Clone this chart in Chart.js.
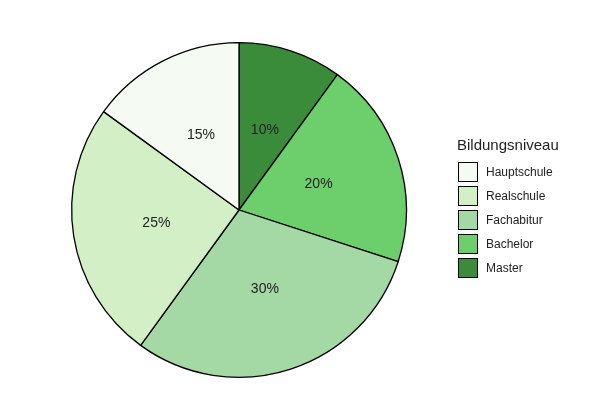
<!DOCTYPE html>
<html><head><meta charset="utf-8">
<script src="https://cdn.jsdelivr.net/npm/chart.js@4"></script>
<style>
body{margin:0;background:#fff;font-family:Arial,"Liberation Sans",sans-serif}
#wrap{position:relative;width:600px;height:420px}
#legend{position:absolute;left:457px;top:136px;color:#222}
#legend .t{font-size:15px;margin-bottom:7px}
#legend .r{display:flex;align-items:center;height:24px;font-size:12px}
#legend .b{width:20px;height:20px;border:1px solid #000;margin:0 8px 0 1px;box-sizing:border-box}
</style></head><body>
<div id="wrap"><canvas id="c" width="600" height="420"></canvas><div id="legend"></div></div>
<script>
// legend order
const categories = ['Hauptschule', 'Realschule', 'Fachabitur', 'Bachelor', 'Master'];
const shares = [15, 25, 30, 20, 10];
const colors = ['#f5fbf3', '#d2efc5', '#a4d8a5', '#6dce6c', '#3a8c3b'];

// drawn clockwise from the top starting with Master
const order = [4, 3, 2, 1, 0];

const lg = document.getElementById('legend');
lg.innerHTML = '<div class="t">Bildungsniveau</div>' + categories.map((c, i) =>
  `<div class="r"><div class="b" style="background:${colors[i]}"></div>${c}</div>`).join('');

const pctLabels = {
  id: 'pctLabels',
  afterDatasetsDraw(chart) {
    const ctx = chart.ctx;
    const meta = chart.getDatasetMeta(0);
    ctx.save();
    ctx.font = '14px Arial, "Liberation Sans"';
    ctx.fillStyle = '#222';
    ctx.textAlign = 'center';
    ctx.textBaseline = 'middle';
    meta.data.forEach((arc, i) => {
      const a = (arc.startAngle + arc.endAngle) / 2;
      const r = arc.outerRadius * 0.5;
      ctx.fillText(chart.data.datasets[0].data[i] + '%', arc.x + Math.cos(a) * r, arc.y + Math.sin(a) * r);
    });
    ctx.restore();
  }
};

new Chart(document.getElementById('c'), {
  type: 'pie',
  data: {
    labels: order.map(i => categories[i]),
    datasets: [{
      data: order.map(i => shares[i]),
      backgroundColor: order.map(i => colors[i]),
      borderColor: '#000',
      borderWidth: 1.3
    }]
  },
  options: {
    responsive: false,
    animation: false,
    layout: { padding: { left: 71, right: 193, top: 42, bottom: 42 } },
    plugins: { legend: { display: false }, tooltip: { enabled: false } }
  },
  plugins: [pctLabels]
});
</script>
</body></html>
